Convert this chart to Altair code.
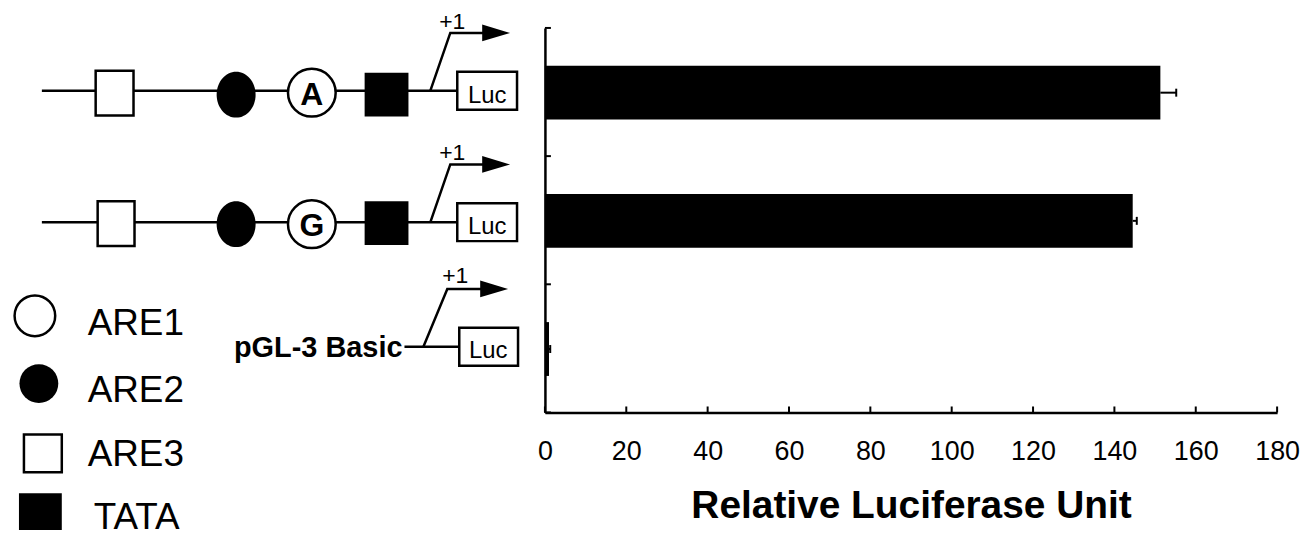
import altair as alt
import pandas as pd

# ---------------- data ----------------
constructs = ["ARE1-A construct", "ARE1-G construct", "pGL-3 Basic"]
luciferase = [151.3, 144.5, 1.0]
errors = [3.9, 1.0, 0.3]
x_ticks = [0, 20, 40, 60, 80, 100, 120, 140, 160, 180]
row_ticks = [0, 1, 2, 3]

# ---------------- promoter schematic (diagram units) ----------------
backbone_x0 = [40, 40, 404]
backbone_x1 = [457, 457, 459]
backbone_y = [90, 222, 347]

arrow_row = [0, 0, 0, 1, 1, 1, 2, 2, 2]
arrow_ord = [0, 1, 2, 0, 1, 2, 0, 1, 2]
arrow_x = [430, 450, 486, 430, 450, 486, 423, 447, 484]
arrow_y = [90, 32, 32, 222, 164, 164, 347, 289, 289]
head_x = [496, 496, 494]
head_y = [32, 164, 289]

open_box_x0 = [94, 96, 457, 457, 459, 22]
open_box_x1 = [132, 133, 517, 517, 518, 60]
open_box_y0 = [70, 201, 71, 203, 328, 435]
open_box_y1 = [115, 246, 109, 241, 366, 473]

tata_x0 = [364, 364, 17]
tata_x1 = [408, 408, 60]
tata_y0 = [72, 201, 494]
tata_y1 = [116, 245, 531]

are2_x = [235, 235]
are2_y = [94, 224]
are2_legend_x = [37]
are2_legend_y = [384]

are1_x = [311, 311, 33]
are1_y = [92, 224, 316]
are1_size = [2290, 2290, 1662]

plus_x = [452, 452, 455]
plus_y = [28, 160, 283]
luc_x = [487, 487, 488]
luc_y = [102, 234, 358]
allele_text = ["A", "G"]
allele_x = [311, 311]
allele_y = [104, 236]
legend_text = ["ARE1", "ARE2", "ARE3", "TATA"]
legend_x = [86, 86, 86, 92]
legend_y = [335, 402, 467, 530]
basic_text = ["pGL-3 Basic"]
basic_x = [402]
basic_y = [357]

FONT = "Liberation Sans"
W, H = 735, 386

# ---------------- scales ----------------
XS = alt.Scale(domain=[0, 180], nice=False, zero=False)
YS = alt.Scale(domain=[0, 3], reverse=True, nice=False, zero=False)
DX = alt.Scale(domain=[0, 1313], range=[-545, 768], nice=False, zero=False)
DY = alt.Scale(domain=[0, 540], range=[-27, 513], nice=False, zero=False)

bars = pd.DataFrame({
    "construct": constructs,
    "value": luciferase,
    "err": errors,
    "row": list(range(len(constructs))),
})

x_axis = alt.Axis(values=x_ticks, ticks=False, grid=False, labelFontSize=27,
                  labelFont=FONT, labelColor="black", labelPadding=26,
                  labelFlush=False, labelOverlap=False, domainColor="black",
                  domainWidth=2.5, title="Relative Luciferase Unit",
                  titleFont=FONT, titleFontSize=39, titleFontWeight="bold",
                  titleColor="black", titlePadding=22)
y_axis = alt.Axis(labels=False, ticks=False, grid=False, title=None,
                  domainColor="black", domainWidth=2.5)

base = alt.Chart(bars).transform_calculate(
    zero="0", lo="datum.row + 0.295", hi="datum.row + 0.715",
    mid="datum.row + 0.505", top="datum.value + datum.err")

bar_layer = base.mark_rect(color="black").encode(
    x=alt.X("zero:Q", scale=XS, axis=x_axis),
    x2="value:Q",
    y=alt.Y("lo:Q", scale=YS, axis=y_axis),
    y2="hi:Q",
)
err_layer = base.mark_rule(color="black", strokeWidth=2).encode(
    x=alt.X("value:Q", scale=XS, axis=None),
    x2="top:Q",
    y=alt.Y("mid:Q", scale=YS, axis=None),
)
cap_layer = base.mark_rule(color="black", strokeWidth=2, yOffset=-4, y2Offset=4).encode(
    x=alt.X("top:Q", scale=XS, axis=None),
    y=alt.Y("mid:Q", scale=YS, axis=None),
    y2="mid:Q",
)
xtick_layer = alt.Chart(pd.DataFrame({"t": x_ticks})).mark_rule(
    color="black", strokeWidth=2).encode(
    x=alt.X("t:Q", scale=XS, axis=None),
    y=alt.value(H), y2=alt.value(H - 6),
)
ytick_layer = alt.Chart(pd.DataFrame({"r": row_ticks})).mark_rule(
    color="black", strokeWidth=2).encode(
    y=alt.Y("r:Q", scale=YS, axis=None),
    x=alt.value(0), x2=alt.value(6),
)

def dxy(xf, yf):
    return dict(x=alt.X(xf, scale=DX, axis=None), y=alt.Y(yf, scale=DY, axis=None))

backbone = alt.Chart(pd.DataFrame({"x0": backbone_x0, "x1": backbone_x1, "y": backbone_y})
                     ).mark_rule(color="black", strokeWidth=2.5).encode(
    **dxy("x0:Q", "y:Q"), x2="x1:Q")

arrows = alt.Chart(pd.DataFrame({"r": arrow_row, "o": arrow_ord, "x": arrow_x, "y": arrow_y})
                   ).mark_line(color="black", strokeWidth=2.5).encode(
    **dxy("x:Q", "y:Q"), detail="r:N", order="o:Q")

TRI = "M -1 -0.6 L 1 0 L -1 0.6 Z"
heads = alt.Chart(pd.DataFrame({"x": head_x, "y": head_y})).mark_point(
    shape=TRI, filled=True, color="black", opacity=1, size=784).encode(**dxy("x:Q", "y:Q"))

open_boxes = alt.Chart(pd.DataFrame({"x0": open_box_x0, "x1": open_box_x1,
                                     "y0": open_box_y0, "y1": open_box_y1})
                       ).mark_rect(fill="white", stroke="black", strokeWidth=2.5).encode(
    **dxy("x0:Q", "y0:Q"), x2="x1:Q", y2="y1:Q")

tata = alt.Chart(pd.DataFrame({"x0": tata_x0, "x1": tata_x1, "y0": tata_y0, "y1": tata_y1})
                 ).mark_rect(color="black").encode(
    **dxy("x0:Q", "y0:Q"), x2="x1:Q", y2="y1:Q")

ELL = ("M 0.85 0 C 0.85 0.5523 0.4695 1 0 1 C -0.4695 1 -0.85 0.5523 -0.85 0 "
       "C -0.85 -0.5523 -0.4695 -1 0 -1 C 0.4695 -1 0.85 -0.5523 0.85 0 Z")
are2 = alt.Chart(pd.DataFrame({"x": are2_x, "y": are2_y})).mark_point(
    shape=ELL, filled=True, color="black", opacity=1, size=2116).encode(**dxy("x:Q", "y:Q"))
are2_leg = alt.Chart(pd.DataFrame({"x": are2_legend_x, "y": are2_legend_y})).mark_point(
    shape="circle", filled=True, color="black", opacity=1, size=1520).encode(**dxy("x:Q", "y:Q"))

are1 = alt.Chart(pd.DataFrame({"x": are1_x, "y": are1_y, "s": are1_size})).mark_point(
    shape="circle", fill="white", fillOpacity=1, stroke="black", strokeWidth=2.5,
    opacity=1).encode(**dxy("x:Q", "y:Q"), size=alt.Size("s:Q", scale=None))

plus = alt.Chart(pd.DataFrame({"x": plus_x, "y": plus_y, "t": ["+1"] * 3})).mark_text(
    font=FONT, fontSize=23, align="center", baseline="alphabetic", color="black").encode(
    **dxy("x:Q", "y:Q"), text="t:N")
luc = alt.Chart(pd.DataFrame({"x": luc_x, "y": luc_y, "t": ["Luc"] * 3})).mark_text(
    font=FONT, fontSize=24, align="center", baseline="alphabetic", color="black").encode(
    **dxy("x:Q", "y:Q"), text="t:N")
allele = alt.Chart(pd.DataFrame({"x": allele_x, "y": allele_y, "t": allele_text})).mark_text(
    font=FONT, fontSize=32, fontWeight="bold", align="center", baseline="alphabetic",
    color="black").encode(**dxy("x:Q", "y:Q"), text="t:N")
legend = alt.Chart(pd.DataFrame({"x": legend_x, "y": legend_y, "t": legend_text})).mark_text(
    font=FONT, fontSize=37, align="left", baseline="alphabetic", color="black").encode(
    **dxy("x:Q", "y:Q"), text="t:N")
basic = alt.Chart(pd.DataFrame({"x": basic_x, "y": basic_y, "t": basic_text})).mark_text(
    font=FONT, fontSize=29, fontWeight="bold", align="right", baseline="alphabetic",
    color="black").encode(**dxy("x:Q", "y:Q"), text="t:N")

chart = alt.layer(
    bar_layer, err_layer, cap_layer, xtick_layer, ytick_layer,
    backbone, arrows, heads, open_boxes, tata, are2, are2_leg, are1,
    plus, luc, allele, legend, basic,
).resolve_scale(x="independent", y="independent").properties(
    width=W, height=H,
    padding={"left": 1, "top": 1, "right": 5, "bottom": 2},
).configure_view(stroke=None)

chart.save("out.html", embed_options={"renderer": "svg", "actions": False})
